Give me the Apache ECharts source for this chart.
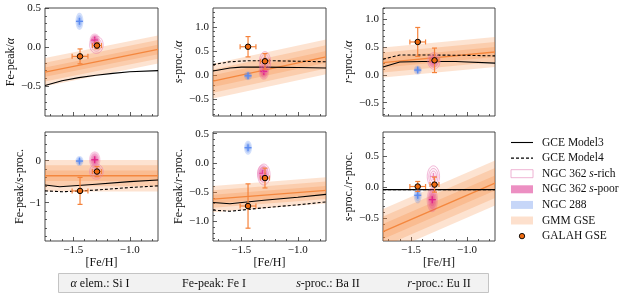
<!DOCTYPE html>
<html><head><meta charset="utf-8">
<script src="https://cdn.jsdelivr.net/npm/echarts@6/dist/echarts.min.js"></script>
<style>html,body{margin:0;padding:0;background:#fff}#c{width:625px;height:295px}</style>
</head><body><div id="c"></div>
<script>
const FONT = "'Liberation Serif', 'Times New Roman', serif";
// ---------- data ----------
const xRange = [-1.75, -0.75];
const xMajorTicks = [-1.5, -1.0];
const xMinorTicks = [-1.7, -1.6, -1.4, -1.3, -1.2, -1.1, -0.9, -0.8];
const xTitle = '[Fe/H]';
const yTitles = [
  '{r|Fe-peak/}{i|α}', '{i|s}{r|-proc./}{i|α}', '{i|r}{r|-proc./}{i|α}',
  '{r|Fe-peak/}{i|s}{r|-proc.}', '{r|Fe-peak/}{i|r}{r|-proc.}', '{i|s}{r|-proc./}{i|r}{r|-proc.}'
];
const yRanges = [[-0.88, 0.5], [-0.84, 1.39], [-0.74, 1.2], [-1.91, 0.68], [-1.34, 0.53], [-0.86, 0.88]];
const yMajorTicks = [[-0.5, 0, 0.5], [-0.5, 0, 0.5, 1], [-0.5, 0, 0.5, 1], [-1, 0], [-1, -0.5, 0, 0.5], [-0.5, 0, 0.5]];
const yMinorStep = [0.1, 0.1, 0.1, 0.2, 0.1, 0.1];
const yDecimals = [1, 1, 1, 0, 1, 1];

// GCE models: [[Fe/H], ratio]
const gceModel3 = [
  [[-1.75, -0.49], [-1.6, -0.43], [-1.45, -0.39], [-1.3, -0.36], [-1.15, -0.335], [-1.0, -0.315], [-0.75, -0.30]],
  [[-1.75, 0.09], [-1.6, 0.15], [-1.5, 0.17], [-1.3, 0.17], [-1.0, 0.16], [-0.75, 0.15]],
  [[-1.75, 0.14], [-1.6, 0.23], [-1.4, 0.24], [-1.1, 0.24], [-0.75, 0.21]],
  [[-1.75, -0.58], [-1.62, -0.62], [-1.3, -0.56], [-1.0, -0.50], [-0.75, -0.46]],
  [[-1.75, -0.68], [-1.6, -0.70], [-1.3, -0.64], [-1.0, -0.59], [-0.75, -0.54]],
  [[-1.75, -0.04], [-0.75, -0.04]]
];
const gceModel4 = [
  null,
  [[-1.75, 0.22], [-1.6, 0.28], [-1.45, 0.30], [-1.2, 0.30], [-1.0, 0.29], [-0.75, 0.28]],
  [[-1.75, 0.28], [-1.6, 0.355], [-1.3, 0.355], [-1.0, 0.35], [-0.75, 0.34]],
  [[-1.75, -0.72], [-1.6, -0.74], [-1.3, -0.70], [-1.0, -0.64], [-0.75, -0.60]],
  [[-1.75, -0.81], [-1.6, -0.83], [-1.3, -0.77], [-1.0, -0.72], [-0.75, -0.67]],
  [[-1.75, -0.04], [-0.75, -0.04]]
];
// GMM GSE: centre value at [Fe/H] = -1.75 and -0.75, and 1-sigma width
const gmmCentre = [[-0.32, -0.03], [-0.12, 0.38], [0.22, 0.41], [-0.36, -0.36], [-0.62, -0.47], [-0.71, 0.065]];
const gmmSigma = [0.06, 0.12, 0.09, 0.125, 0.075, 0.12];
// GALAH GSE: [x, y, xerr, yerr]
const galah = [
  [[-1.44, -0.118, 0.07, 0.095], [-1.29, 0.02, 0.04, 0.04]],
  [[-1.44, 0.59, 0.07, 0.21], [-1.29, 0.29, 0.04, 0.16]],
  [[-1.44, 0.59, 0.07, 0.26], [-1.29, 0.26, 0.04, 0.22]],
  [[-1.44, -0.72, 0.07, 0.32], [-1.29, -0.26, 0.04, 0.12]],
  [[-1.44, -0.74, 0.07, 0.38], [-1.29, -0.26, 0.04, 0.17]],
  [[-1.44, 0.01, 0.07, 0.08], [-1.29, 0.04, 0.04, 0.12]]
];
// clusters: [x, y, x-extent, y-extent]
const ngc288 = [
  [-1.445, 0.33, 0.035, 0.11], [-1.44, -0.01, 0.035, 0.09], [-1.44, 0.085, 0.035, 0.08],
  [-1.445, -0.01, 0.035, 0.12], [-1.44, 0.26, 0.035, 0.12], [-1.44, -0.13, 0.035, 0.13]
];
const ngc362Poor = [
  [-1.31, 0.09, 0.045, 0.085], [-1.30, 0.08, 0.045, 0.17], [-1.30, 0.25, 0.045, 0.12],
  [-1.31, 0.02, 0.05, 0.2], [-1.31, -0.18, 0.05, 0.15], [-1.31, -0.2, 0.05, 0.2]
];
const ngc362Rich = [
  [-1.295, 0.03, 0.06, 0.11], [-1.29, 0.27, 0.05, 0.22], [-1.295, 0.25, 0.055, 0.15],
  [-1.295, -0.26, 0.06, 0.18], [-1.30, -0.2, 0.055, 0.18], [-1.30, 0.17, 0.055, 0.17]
];
const legendNames = ['GCE Model3', 'GCE Model4', '{r|NGC 362 }{i|s}{r|-rich}', '{r|NGC 362 }{i|s}{r|-poor}', 'NGC 288', 'GMM GSE', 'GALAH GSE'];
const boxTexts = ['{i|α}{r| elem.: Si I}', '{r|Fe-peak: Fe I}', '{i|s}{r|-proc.: Ba II}', '{i|r}{r|-proc.: Eu II}'];

// ---------- layout ----------
const gridPos = [[45, 8, 113, 108], [213, 8, 113, 108], [383, 8, 112, 108], [45, 132, 113, 109], [213, 132, 113, 109], [383, 132, 112, 109]];
const nameGaps = [26, 25, 24, 18, 25.5, 25.5];
const NAME_FS = 12;
const rich = {
  r: { fontFamily: FONT, fontSize: NAME_FS, color: '#111' },
  i: { fontFamily: FONT, fontSize: NAME_FS, color: '#111', fontStyle: 'italic' }
};
function fmt(d) { return v => v.toFixed(d).replace('-', '−'); }
function minorTicks(r, step, majors) {
  const out = [];
  const start = Math.ceil(r[0] / step - 1e-9);
  for (let k = start; k * step <= r[1] + 1e-9; k++) {
    const v = Math.round(k * step * 1000) / 1000;
    if (!majors.some(m => Math.abs(m - v) < 1e-6)) out.push(v);
  }
  return out;
}
function ell(cx, cy, rx, ry) {
  const p = [];
  for (let k = 0; k < 48; k++) { const t = 2 * Math.PI * k / 48; p.push([cx + rx * Math.cos(t), cy + ry * Math.sin(t)]); }
  return p;
}
function bandRender(params, api) {
  const xL = api.value(0), cL = api.value(1), xR = api.value(2), cR = api.value(3), w = api.value(4);
  const ch = [];
  [3, 2, 1].forEach(k => {
    ch.push({ type: 'polygon', shape: { points: [api.coord([xL, cL + k * w]), api.coord([xR, cR + k * w]), api.coord([xR, cR - k * w]), api.coord([xL, cL - k * w])] },
      style: { fill: 'rgba(244,129,45,0.22)' } });
  });
  return { type: 'group', children: ch };
}
function clusterRender(style) {
  return function (params, api) {
    const c = api.coord([api.value(0), api.value(1)]);
    const s = api.size([api.value(2), api.value(3)]);
    const ch = [];
    style.levels.forEach(f => ch.push({ type: 'polygon', shape: { points: ell(c[0], c[1], s[0] * f, s[1] * f) },
      style: { fill: style.fill, stroke: style.stroke || null, lineWidth: style.lw || 0 } }));
    const h = 3.5;
    ch.push({ type: 'line', shape: { x1: c[0] - h, y1: c[1], x2: c[0] + h, y2: c[1] }, style: { stroke: style.cross, lineWidth: 1.3 } });
    ch.push({ type: 'line', shape: { x1: c[0], y1: c[1] - h, x2: c[0], y2: c[1] + h }, style: { stroke: style.cross, lineWidth: 1.3 } });
    return { type: 'group', children: ch };
  };
}
function errRender(params, api) {
  const x = api.value(0), y = api.value(1), xe = api.value(2), ye = api.value(3);
  const a = api.coord([x - xe, y]), b = api.coord([x + xe, y]), c = api.coord([x, y - ye]), d = api.coord([x, y + ye]);
  const st = { stroke: '#f5823a', lineWidth: 1.2 }, cap = 2.5;
  return { type: 'group', children: [
    { type: 'line', shape: { x1: a[0], y1: a[1], x2: b[0], y2: b[1] }, style: st },
    { type: 'line', shape: { x1: a[0], y1: a[1] - cap, x2: a[0], y2: a[1] + cap }, style: st },
    { type: 'line', shape: { x1: b[0], y1: b[1] - cap, x2: b[0], y2: b[1] + cap }, style: st },
    { type: 'line', shape: { x1: c[0], y1: c[1], x2: d[0], y2: d[1] }, style: st },
    { type: 'line', shape: { x1: c[0] - cap, y1: c[1], x2: c[0] + cap, y2: c[1] }, style: st },
    { type: 'line', shape: { x1: d[0] - cap, y1: d[1], x2: d[0] + cap, y2: d[1] }, style: st }
  ] };
}

const grids = [], xAxes = [], yAxes = [], series = [];
const tickStyle = { color: '#333', width: 0.8 };
const noLine = { show: false, onZero: false };
for (let i = 0; i < 6; i++) {
  const g = gridPos[i], bottom = i >= 3;
  grids.push({ left: g[0], top: g[1], width: g[2], height: g[3], show: true, borderColor: '#333', borderWidth: 0.9, backgroundColor: 'transparent', containLabel: false });
  xAxes.push({ type: 'value', gridIndex: i, position: 'bottom', min: xRange[0], max: xRange[1], axisLine: noLine, splitLine: { show: false },
    axisTick: { inside: true, length: 4, lineStyle: tickStyle, customValues: xMajorTicks },
    axisLabel: { show: bottom, customValues: xMajorTicks, formatter: fmt(1), fontFamily: FONT, fontSize: 11, color: '#111', margin: 4 },
    name: bottom ? xTitle : '', nameLocation: 'middle', nameGap: 15, nameTextStyle: { fontFamily: FONT, fontSize: NAME_FS, color: '#111' } });
  xAxes.push({ type: 'value', gridIndex: i, position: 'bottom', offset: 0, min: xRange[0], max: xRange[1], axisLine: noLine, splitLine: { show: false },
    axisTick: { inside: true, length: 2, lineStyle: tickStyle, customValues: xMinorTicks }, axisLabel: { show: false } });
  yAxes.push({ type: 'value', gridIndex: i, position: 'left', min: yRanges[i][0], max: yRanges[i][1], axisLine: noLine, splitLine: { show: false },
    axisTick: { inside: true, length: 4, lineStyle: tickStyle, customValues: yMajorTicks[i] },
    axisLabel: { customValues: yMajorTicks[i], formatter: fmt(yDecimals[i]), fontFamily: FONT, fontSize: 11, color: '#111', margin: 4 },
    name: yTitles[i], nameLocation: 'middle', nameRotate: 90, nameGap: nameGaps[i], nameTextStyle: { fontFamily: FONT, fontSize: NAME_FS, rich: rich } });
  yAxes.push({ type: 'value', gridIndex: i, position: 'left', offset: 0, min: yRanges[i][0], max: yRanges[i][1], axisLine: noLine, splitLine: { show: false },
    axisTick: { inside: true, length: 2, lineStyle: tickStyle, customValues: minorTicks(yRanges[i], yMinorStep[i], yMajorTicks[i]) }, axisLabel: { show: false } });
  const ax = { xAxisIndex: 2 * i, yAxisIndex: 2 * i };
  series.push(Object.assign({ type: 'custom', name: 'GMM GSE', clip: true, z: 1, silent: true,
    data: [[xRange[0], gmmCentre[i][0], xRange[1], gmmCentre[i][1], gmmSigma[i]]], renderItem: bandRender }, ax));
  series.push(Object.assign({ type: 'line', name: 'GMM GSE centre', z: 2, symbol: 'none', clip: true,
    data: [[xRange[0], gmmCentre[i][0]], [xRange[1], gmmCentre[i][1]]], lineStyle: { color: '#f4873e', width: 1.3 } }, ax));
  series.push(Object.assign({ type: 'line', name: 'GCE Model3', z: 3, symbol: 'none', clip: true,
    data: gceModel3[i], lineStyle: { color: '#000', width: 1.1 } }, ax));
  if (gceModel4[i]) series.push(Object.assign({ type: 'line', name: 'GCE Model4', z: 3, symbol: 'none', clip: true,
    data: gceModel4[i], lineStyle: { color: '#000', width: 1.1, type: [3, 2] } }, ax));
  series.push(Object.assign({ type: 'custom', name: 'NGC 288', z: 4, clip: true, data: [ngc288[i]],
    renderItem: clusterRender({ levels: [1, 0.72, 0.45], fill: 'rgba(85,135,240,0.26)', cross: '#5a8af0' }) }, ax));
  series.push(Object.assign({ type: 'custom', name: 'NGC 362 s-poor', z: 4, clip: true, data: [ngc362Poor[i]],
    renderItem: clusterRender({ levels: [1, 0.75, 0.52, 0.3], fill: 'rgba(226,45,140,0.24)', cross: '#e0248a' }) }, ax));
  series.push(Object.assign({ type: 'custom', name: 'NGC 362 s-rich', z: 4, clip: true, data: [ngc362Rich[i]],
    renderItem: clusterRender({ levels: [1, 0.75, 0.5], fill: 'rgba(240,150,200,0.07)', stroke: 'rgba(230,120,180,0.75)', lw: 0.7, cross: '#ee8cc2' }) }, ax));
  series.push(Object.assign({ type: 'custom', name: 'GALAH GSE err', z: 5, data: galah[i], renderItem: errRender }, ax));
  series.push(Object.assign({ type: 'scatter', name: 'GALAH GSE', z: 6, symbolSize: 5.5, data: galah[i].map(p => [p[0], p[1]]),
    itemStyle: { color: '#ee6a10', borderColor: '#000', borderWidth: 1, opacity: 1 } }, ax));
}

// legend drawn as graphic
const lgY0 = 142.5, lgStep = 15.6, lgX = 511, lgW = 22, lgTx = 542;
const graphics = [];
const swatches = [
  { t: 'line', dash: null }, { t: 'line', dash: [3, 2] },
  { t: 'rect', fill: '#ffffff', stroke: '#eaa0c8' }, { t: 'rect', fill: '#ec8fc2' },
  { t: 'rect', fill: '#c6d6f8' }, { t: 'rect', fill: '#fde0cd' }, { t: 'dot' }
];
const LG_FS = 11.5;
const richSmall = { r: { fontFamily: FONT, fontSize: LG_FS, fill: '#111' }, i: { fontFamily: FONT, fontSize: LG_FS, fontStyle: 'italic', fill: '#111' } };
swatches.forEach((s, k) => {
  const y = lgY0 + k * lgStep;
  if (s.t === 'line') graphics.push({ type: 'line', shape: { x1: lgX, y1: y, x2: lgX + lgW, y2: y }, style: { stroke: '#000', lineWidth: 1.1, lineDash: s.dash } });
  else if (s.t === 'rect') graphics.push({ type: 'rect', shape: { x: lgX, y: y - 4, width: lgW, height: 8 }, style: { fill: s.fill, stroke: s.stroke || null, lineWidth: s.stroke ? 0.8 : 0 } });
  else graphics.push({ type: 'circle', shape: { cx: lgX + lgW / 2, cy: y, r: 2.7 }, style: { fill: '#ee6a10', stroke: '#000', lineWidth: 0.9 } });
  graphics.push({ type: 'text', x: lgTx, y: y, style: { text: legendNames[k], fontFamily: FONT, fontSize: LG_FS, fill: '#111', verticalAlign: 'middle', align: 'left', rich: richSmall } });
});
// bottom box
graphics.push({ type: 'rect', shape: { x: 58.5, y: 273.5, width: 430, height: 19 }, style: { fill: '#f2f2f2', stroke: '#c4c4c4', lineWidth: 1 } });
const boxCx = [100, 214, 328, 439];
const richBox = { r: { fontFamily: FONT, fontSize: 12, fill: '#111' }, i: { fontFamily: FONT, fontSize: 12, fontStyle: 'italic', fill: '#111' } };
boxTexts.forEach((t, k) => graphics.push({ type: 'text', x: boxCx[k], y: 283.5, style: { text: t, align: 'center', verticalAlign: 'middle',
  fontFamily: FONT, fontSize: 12, fill: '#111', rich: richBox } }));

const chart = echarts.init(document.getElementById('c'), null, { width: 625, height: 295 });
chart.setOption({ animation: false, backgroundColor: '#fff', textStyle: { fontFamily: FONT }, grid: grids, xAxis: xAxes, yAxis: yAxes, series: series, graphic: graphics });
</script></body></html>
